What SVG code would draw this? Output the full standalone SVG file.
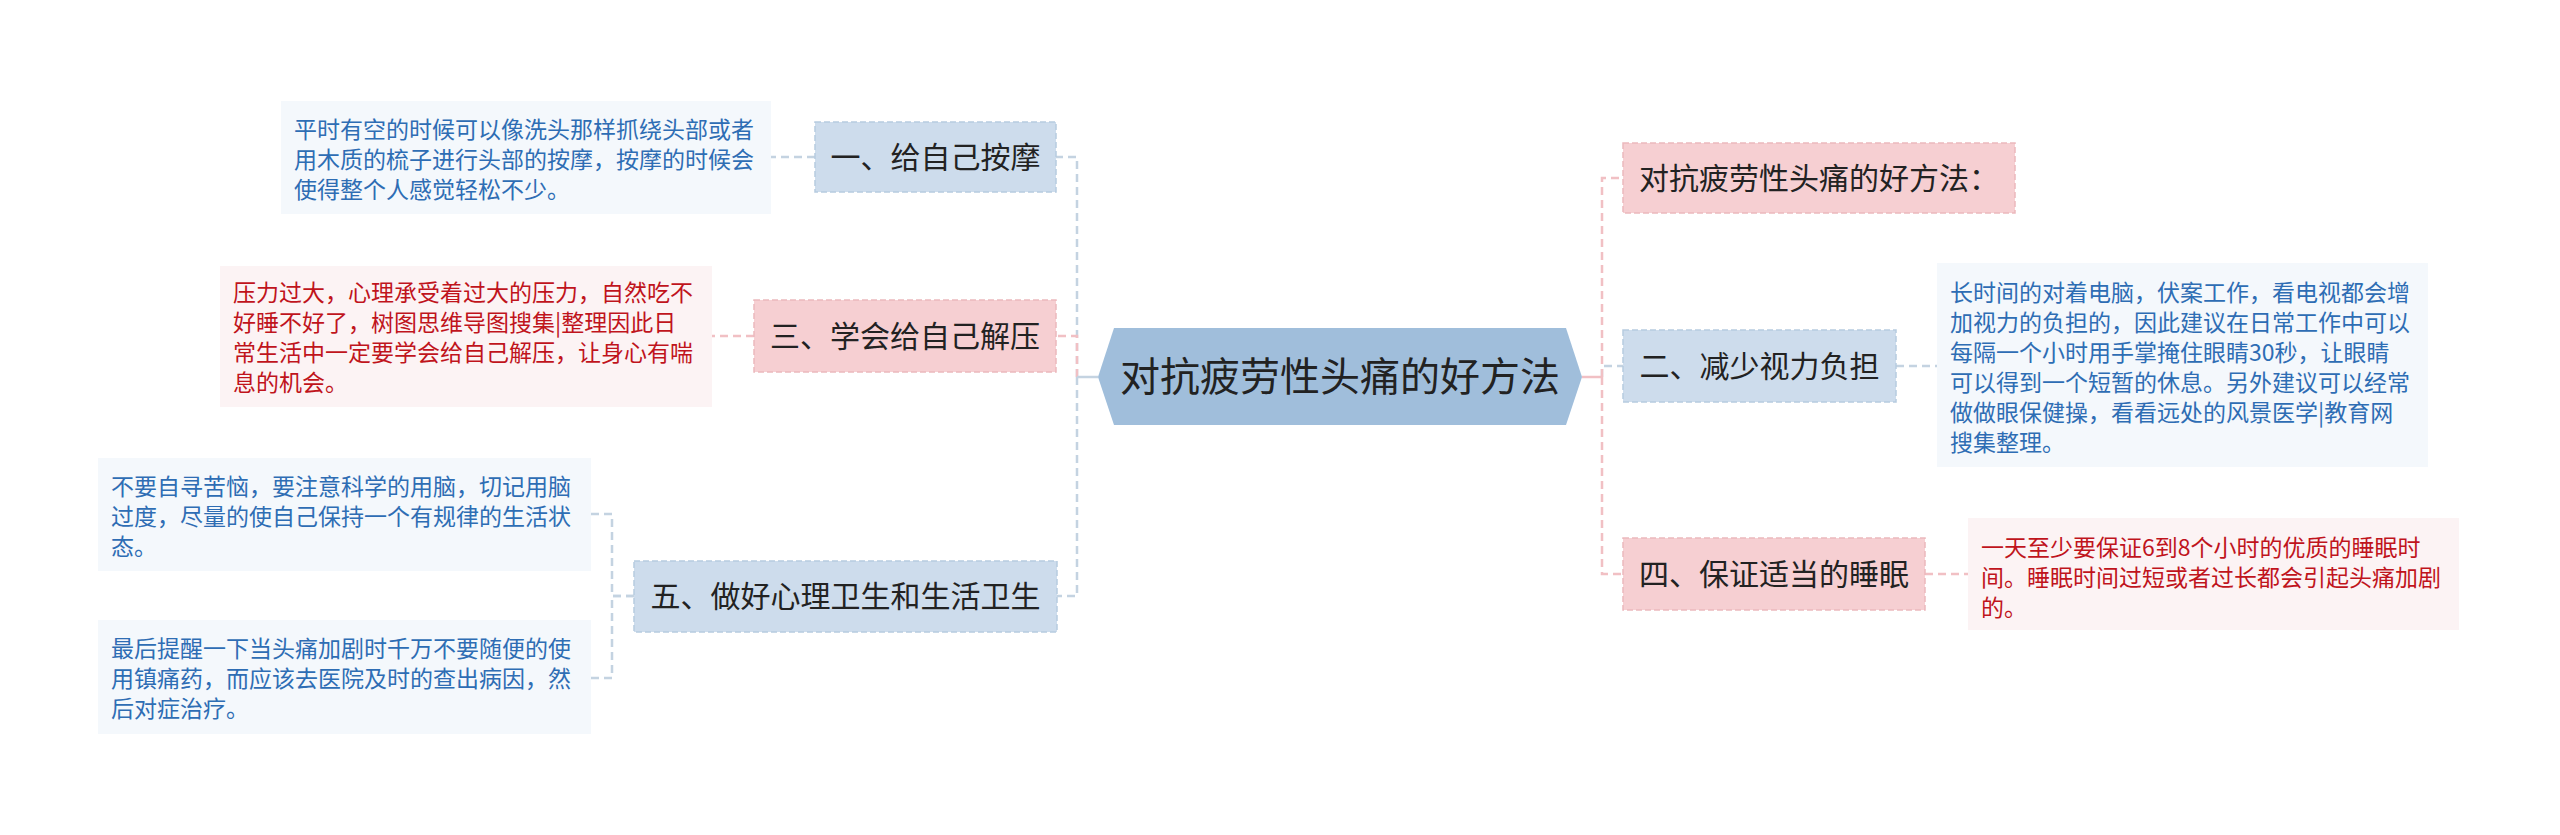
<svg xmlns="http://www.w3.org/2000/svg" width="2560" height="835" viewBox="0 0 2560 835">
<style>
text{font-family:"Noto Sans CJK SC","Noto Sans",sans-serif}
.c{fill:none;stroke-width:2.5;stroke-dasharray:8 5}
.cb{stroke:#c4d3e1}
.cp{stroke:#f1c0c4}
.nb{fill:#cddcec;stroke:#b7cbe0;stroke-width:1.5;stroke-dasharray:6 3}
.np{fill:#f6cfd2;stroke:#ebb9bd;stroke-width:1.5;stroke-dasharray:6 3}
.nt{font-size:30px;fill:#222;text-anchor:middle}
.lb{fill:#f4f8fc}
.lp{fill:#fcf3f4}
.tb{font-size:23px;fill:#2e6db4}
.tp{font-size:23px;fill:#c0141c}
</style>
<rect width="2560" height="835" fill="#ffffff"/>
<g id="connectors">
<path class="c cb" d="M1077,377 V157 H1056"/>
<path class="c cb" d="M1077,377 V596 H1057"/>
<path class="c cp" d="M1077,377 V336 H1056"/>
<path d="M1098,377 H1077" fill="none" stroke="#c4d3e1" stroke-width="2.5"/>
<path class="c cb" d="M1602,377 V366 H1623"/>
<path class="c cp" d="M1602,377 V178 H1623"/>
<path class="c cp" d="M1602,377 V574 H1623"/>
<path d="M1582,377 H1602" fill="none" stroke="#f1c0c4" stroke-width="2.5"/>
<path class="c cb" d="M815,157 H771"/>
<path class="c cp" d="M754,336 H712"/>
<path class="c cb" d="M634,596 H612 V514 H591"/>
<path class="c cb" d="M634,596 H612 V678 H591"/>
<path class="c cb" d="M1896,366 H1937"/>
<path class="c cp" d="M1925,574 H1968"/>
</g>
<g id="root">
<polygon points="1098,377 1114,328 1566,328 1582,377 1566,425 1114,425" fill="#a0bedb"/>
<text x="1340" y="391" font-size="40" fill="#222" text-anchor="middle">对抗疲劳性头痛的好方法</text>
</g>
<g id="n1">
<rect class="nb" x="815" y="122" width="241" height="70"/>
<text class="nt" x="935.5" y="167.5">一、给自己按摩</text>
</g>
<g id="n3">
<rect class="np" x="754" y="300" width="302" height="72"/>
<text class="nt" x="905" y="346.5">三、学会给自己解压</text>
</g>
<g id="n5">
<rect class="nb" x="634" y="561" width="423" height="71"/>
<text class="nt" x="845.5" y="606.5">五、做好心理卫生和生活卫生</text>
</g>
<g id="r0">
<rect class="np" x="1623" y="143" width="392" height="70"/>
<text class="nt" x="1819" y="188.5">对抗疲劳性头痛的好方法：</text>
</g>
<g id="r2">
<rect class="nb" x="1623" y="330" width="273" height="72"/>
<text class="nt" x="1759.5" y="376.5">二、减少视力负担</text>
</g>
<g id="r4">
<rect class="np" x="1623" y="538" width="302" height="72"/>
<text class="nt" x="1774" y="584.5">四、保证适当的睡眠</text>
</g>
<g id="l1">
<rect class="lb" x="281" y="101" width="490" height="113"/>
<text class="tb"><tspan x="294" y="138">平时有空的时候可以像洗头那样抓绕头部或者</tspan><tspan x="294" y="168">用木质的梳子进行头部的按摩，按摩的时候会</tspan><tspan x="294" y="198">使得整个人感觉轻松不少。</tspan></text>
</g>
<g id="l2">
<rect class="lp" x="220" y="266" width="492" height="141"/>
<text class="tp"><tspan x="233" y="301">压力过大，心理承受着过大的压力，自然吃不</tspan><tspan x="233" y="331">好睡不好了，树图思维导图搜集|整理因此日</tspan><tspan x="233" y="361">常生活中一定要学会给自己解压，让身心有喘</tspan><tspan x="233" y="391">息的机会。</tspan></text>
</g>
<g id="l3">
<rect class="lb" x="98" y="458" width="493" height="113"/>
<text class="tb"><tspan x="111" y="495">不要自寻苦恼，要注意科学的用脑，切记用脑</tspan><tspan x="111" y="525">过度，尽量的使自己保持一个有规律的生活状</tspan><tspan x="111" y="555">态。</tspan></text>
</g>
<g id="l4">
<rect class="lb" x="98" y="620" width="493" height="114"/>
<text class="tb"><tspan x="111" y="657">最后提醒一下当头痛加剧时千万不要随便的使</tspan><tspan x="111" y="687">用镇痛药，而应该去医院及时的查出病因，然</tspan><tspan x="111" y="717">后对症治疗。</tspan></text>
</g>
<g id="rl1">
<rect class="lb" x="1937" y="263" width="491" height="204"/>
<text class="tb"><tspan x="1950" y="301">长时间的对着电脑，伏案工作，看电视都会增</tspan><tspan x="1950" y="331">加视力的负担的，因此建议在日常工作中可以</tspan><tspan x="1950" y="361">每隔一个小时用手掌掩住眼睛30秒，让眼睛</tspan><tspan x="1950" y="391">可以得到一个短暂的休息。另外建议可以经常</tspan><tspan x="1950" y="421">做做眼保健操，看看远处的风景医学|教育网</tspan><tspan x="1950" y="451">搜集整理。</tspan></text>
</g>
<g id="rl2">
<rect class="lp" x="1968" y="518" width="491" height="112"/>
<text class="tp"><tspan x="1981" y="556">一天至少要保证6到8个小时的优质的睡眠时</tspan><tspan x="1981" y="586">间。睡眠时间过短或者过长都会引起头痛加剧</tspan><tspan x="1981" y="616">的。</tspan></text>
</g>
</svg>
